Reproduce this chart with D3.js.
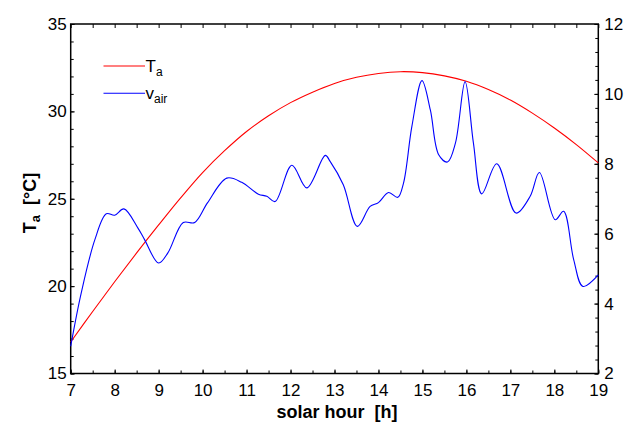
<!DOCTYPE html>
<html>
<head>
<meta charset="utf-8">
<script src="https://cdn.jsdelivr.net/npm/d3@7"></script>
<style>
  html, body { margin: 0; padding: 0; background: #fff; }
  svg { display: block; font-family: "Liberation Sans", Arial, sans-serif; }
</style>
</head>
<body>
<svg id="chart" width="632" height="424"></svg>
<script>
// Air temperature over the day (left axis, °C)
const taHours = [7, 7.5, 8, 8.5, 9, 9.5, 10, 10.5, 11, 11.5, 12, 12.5, 13,
                 13.5, 14, 14.5, 15, 15.5, 16, 16.5, 17, 17.5, 18, 18.5, 19];
const taValues = [16.8, 18.55, 20.25, 21.9, 23.5, 25.05, 26.5, 27.75, 28.85, 29.75,
                  30.5, 31.1, 31.6, 31.95, 32.17, 32.27, 32.22, 32.03, 31.72, 31.25,
                  30.65, 29.9, 29.05, 28.1, 27.05];

// Air velocity over the day (right axis)
const vHours = [7.0, 7.24, 7.55, 7.81, 8.0, 8.21, 8.53, 8.68, 9.0, 9.21, 9.56, 9.82,
                10.11, 10.55, 10.89, 11.27, 11.46, 11.65, 12.03, 12.37, 12.79, 12.9,
                13.2, 13.52, 13.81, 14.0, 14.23, 14.44, 14.57, 14.76, 14.99, 15.18,
                15.37, 15.57, 15.75, 15.97, 16.16, 16.35, 16.69, 17.13, 17.45, 17.66,
                18.02, 18.21, 18.44, 18.65, 19.0];
const vValues = [2.78, 4.31, 5.83, 6.57, 6.53, 6.71, 6.16, 5.83, 5.16, 5.45, 6.32, 6.32,
                 6.88, 7.59, 7.47, 7.13, 7.07, 6.92, 7.96, 7.31, 8.24, 8.07,
                 7.4, 6.21, 6.78, 6.89, 7.18, 7.04, 7.45, 9.07, 10.38, 9.54,
                 8.26, 8.05, 8.59, 10.35, 8.59, 7.14, 8.0, 6.59, 7.07, 7.75,
                 6.4, 6.64, 5.26, 4.49, 4.82];

const xTicks = [7, 8, 9, 10, 11, 12, 13, 14, 15, 16, 17, 18, 19];
const leftTicks = [15, 20, 25, 30, 35];
const rightTicks = [2, 4, 6, 8, 10, 12];

const svg = d3.select("#chart");
const L = 70.7, R = 598.3, T = 24, B = 373.5;

const x = d3.scaleLinear().domain([7, 19]).range([L, R]);
const yL = d3.scaleLinear().domain([15, 35]).range([B, T]);
const yR = d3.scaleLinear().domain([2, 12]).range([B, T]);

const tickFont = 17;

// Minor tick positions
const xMinor = d3.range(7, 19.001, 0.5);
const yLMinor = d3.range(15, 35.001, 1);
const yRMinor = d3.range(2, 12.001, 0.4);

function styleAxis(g) {
  g.selectAll(".domain").remove();
  g.selectAll("line").attr("stroke", "#000").attr("stroke-width", 1);
  g.selectAll("text").attr("font-size", tickFont).attr("fill", "#000");
}

// Bottom axis: labels plus inward ticks
const bottomMinorG = svg.append("g").attr("transform", `translate(0,${B})`)
  .call(d3.axisBottom(x).tickValues(xMinor).tickSize(-3).tickFormat(() => ""));
styleAxis(bottomMinorG);
const bottomMajorG = svg.append("g").attr("transform", `translate(0,${B})`)
  .call(d3.axisBottom(x).tickValues(xTicks).tickSize(-4).tickPadding(10).tickFormat(d3.format("d")));
styleAxis(bottomMajorG);

// Top axis: ticks only
const topAxisG = svg.append("g").attr("transform", `translate(0,${T})`)
  .call(d3.axisTop(x).tickValues(xMinor).tickSize(-4).tickFormat(() => ""));
styleAxis(topAxisG);

// Left axis
const leftMinorG = svg.append("g").attr("transform", `translate(${L},0)`)
  .call(d3.axisLeft(yL).tickValues(yLMinor).tickSize(-3).tickFormat(() => ""));
styleAxis(leftMinorG);
const leftMajorG = svg.append("g").attr("transform", `translate(${L},0)`)
  .call(d3.axisLeft(yL).tickValues(leftTicks).tickSize(-4).tickPadding(4).tickFormat(d3.format("d")));
styleAxis(leftMajorG);

// Right axis
const rightMinorG = svg.append("g").attr("transform", `translate(${R},0)`)
  .call(d3.axisRight(yR).tickValues(yRMinor).tickSize(-3).tickFormat(() => ""));
styleAxis(rightMinorG);
const rightMajorG = svg.append("g").attr("transform", `translate(${R},0)`)
  .call(d3.axisRight(yR).tickValues(rightTicks).tickSize(-4).tickPadding(6).tickFormat(d3.format("d")));
styleAxis(rightMajorG);

// Plot frame
svg.append("rect")
  .attr("x", L).attr("y", T).attr("width", R - L).attr("height", B - T)
  .attr("fill", "none").attr("stroke", "#000").attr("stroke-width", 1.5);

// Curves
const taLine = d3.line()
  .x((d, i) => x(taHours[i])).y(d => yL(d))
  .curve(d3.curveCatmullRom.alpha(0.5));
const vLine = d3.line()
  .x((d, i) => x(vHours[i])).y(d => yR(d))
  .curve(d3.curveCatmullRom.alpha(0.5));

svg.append("path").datum(taValues).attr("d", taLine)
  .attr("fill", "none").attr("stroke", "#ff0000").attr("stroke-width", 1.1);
svg.append("path").datum(vValues).attr("d", vLine)
  .attr("fill", "none").attr("stroke", "#0000ff").attr("stroke-width", 1.1);

// Legend
const legendItems = [
  { main: "T", sub: "a", color: "#ff0000", y: 66 },
  { main: "v", sub: "air", color: "#0000ff", y: 93.3 }
];
legendItems.forEach(item => {
  svg.append("line")
    .attr("x1", 103.5).attr("x2", 145).attr("y1", item.y).attr("y2", item.y)
    .attr("stroke", item.color).attr("stroke-width", 1.1);
  const t = svg.append("text").attr("x", 145.5).attr("y", item.y + 6)
    .attr("font-size", 17).attr("fill", "#000");
  t.append("tspan").text(item.main);
  t.append("tspan").attr("dy", 4).attr("font-size", 12).text(item.sub);
});

// Axis titles
svg.append("text")
  .attr("x", 337).attr("y", 418)
  .attr("text-anchor", "middle").attr("font-size", 18).attr("font-weight", "bold")
  .style("white-space", "pre")
  .text("solar hour  [h]");

const yTitle = svg.append("text")
  .attr("transform", "translate(36,203) rotate(-90)")
  .attr("text-anchor", "middle").attr("font-size", 18).attr("font-weight", "bold")
  .style("white-space", "pre");
yTitle.append("tspan").text("T");
yTitle.append("tspan").attr("dy", 4).attr("font-size", 13).text("a");
yTitle.append("tspan").attr("dy", -4).text("  [°C]");
</script>
</body>
</html>
